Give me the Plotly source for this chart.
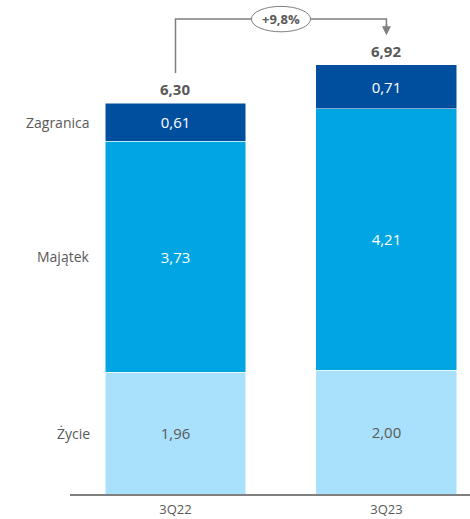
import plotly.graph_objects as go

categories = ["3Q22", "3Q23"]
series_names = ["Życie", "Majątek", "Zagranica"]
zycie = [1.96, 2.00]
majatek = [3.73, 4.21]
zagranica = [0.61, 0.71]
totals = [6.30, 6.92]
change_label = "+9,8%"

colors = ["#a9e1fc", "#00a5e2", "#004f9f"]
text_colors = ["#595959", "white", "white"]
GRAY = "#595959"
FONT = "Open Sans"

def fmt(v):
    return f"{v:.2f}".replace(".", ",")

fig = go.Figure()
xs = [0, 1]
for name, vals, c, tc in zip(series_names, [zycie, majatek, zagranica], colors, text_colors):
    fig.add_trace(go.Bar(
        x=xs, y=vals, name=name, marker=dict(color=c, line=dict(color="white", width=0.5)),
        width=0.668, text=[fmt(v) for v in vals], textposition="inside",
        insidetextanchor="middle", textfont=dict(color=tc, size=15, family=FONT),
        hoverinfo="skip",
    ))

# total labels
for x, t in zip(xs, totals):
    fig.add_annotation(x=x, y=t, text=f"<b>{fmt(t)}</b>", showarrow=False,
                       yanchor="bottom", yshift=2, font=dict(size=15, color=GRAY, family=FONT))

# series labels left of the first bar
cum = 0
for name, vals in zip(series_names, [zycie, majatek, zagranica]):
    mid = cum + vals[0] / 2
    cum += vals[0]
    fig.add_annotation(x=0, y=mid, text=name, showarrow=False, xanchor="right",
                       xshift=-83, font=dict(size=14, color=GRAY, family=FONT))

# connector
y_start = totals[0] + 0.49
y_top = max(totals) + 0.74
y_tip = totals[1] + 0.48
fig.add_shape(type="path", xref="x", yref="y",
              path=f"M 0 {y_start} L 0 {y_top} L 1 {y_top} L 1 {y_tip + 0.12}",
              line=dict(color="#7f7f7f", width=1.5))
fig.add_annotation(x=1, y=y_tip, ax=1, ay=y_tip + 0.2, xref="x", yref="y", axref="x", ayref="y",
                   showarrow=True, arrowhead=2, arrowsize=1.2, arrowwidth=1.5, arrowcolor="#7f7f7f", text="")
fig.add_shape(type="circle", xref="x", yref="y", x0=0.5 - 0.14, x1=0.5 + 0.14,
              y0=y_top - 0.205, y1=y_top + 0.205, fillcolor="white", line=dict(color="#7f7f7f", width=1))
fig.add_annotation(x=0.5, y=y_top, text=f"<b>{change_label}</b>", showarrow=False,
                   font=dict(size=13, color=GRAY, family=FONT))

fig.update_layout(
    barmode="stack", width=470, height=519, showlegend=False,
    margin=dict(l=70, r=0, t=0, b=25),
    plot_bgcolor="white", paper_bgcolor="white",
    xaxis=dict(range=[-0.5, 1.396], tickmode="array", tickvals=xs, ticktext=categories,
               showline=True, linecolor="#808080", linewidth=1.5, showgrid=False, zeroline=False,
               tickfont=dict(size=13, color=GRAY, family=FONT), ticks="", ticklabelstandoff=3),
    yaxis=dict(range=[0, 7.968], visible=False, showgrid=False, zeroline=False),
)
fig.write_html("out.html", config={"displayModeBar": False})

with open("out.html", encoding="utf-8") as f:
    html = f.read()
html = html.replace("<head>", "<head><style>html,body{margin:0;padding:0;overflow:hidden;}</style>", 1)
with open("out.html", "w", encoding="utf-8") as f:
    f.write(html)
